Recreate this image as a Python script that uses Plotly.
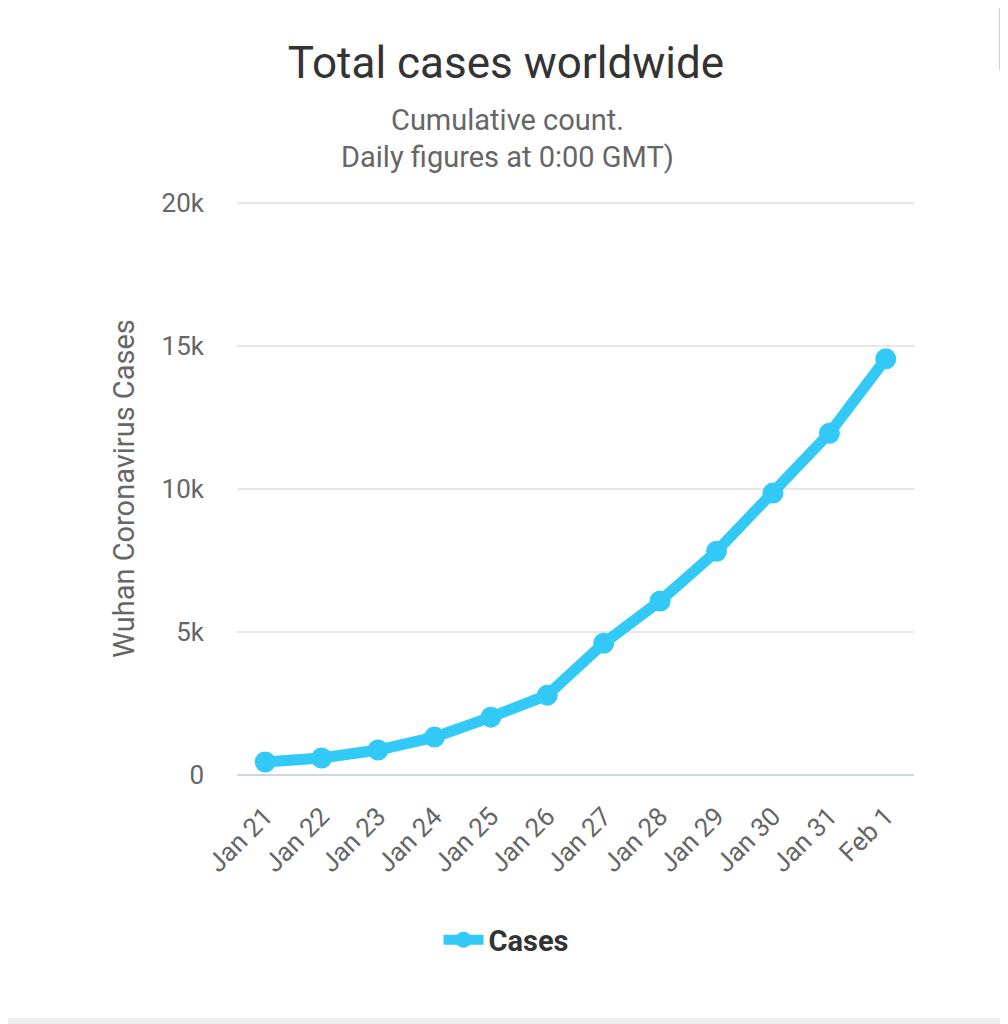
import plotly.graph_objects as go

dates = ["Jan 21", "Jan 22", "Jan 23", "Jan 24", "Jan 25", "Jan 26",
         "Jan 27", "Jan 28", "Jan 29", "Jan 30", "Jan 31", "Feb 1"]
cases = [454, 593, 873, 1326, 2024, 2792, 4607, 6087, 7825, 9860, 11951, 14555]
y_tick_vals = [0, 5000, 10000, 15000, 20000]
y_tick_text = ["0", "5k", "10k", "15k", "20k"]

FONT = "Roboto, 'Noto Sans', sans-serif"
LINE_COLOR = "#33c9f7"

# the page body adds an 8px margin, so the figure is 1000x1016 and offset by 8px
W, H = 1000, 1016
L, R, T, B = 229, 94, 194, 249
plot_w = W - L - R
plot_h = H - T - B


def px_x(px):
    return (px - L) / plot_w


def px_y(py):
    return (H - B - py) / plot_h


fig = go.Figure()
fig.add_trace(go.Scatter(
    x=list(range(len(dates))), y=cases, name="Cases",
    mode="lines+markers",
    line=dict(color=LINE_COLOR, width=11),
    marker=dict(color=LINE_COLOR, size=21),
))

fig.update_layout(
    width=W, height=H,
    paper_bgcolor="white", plot_bgcolor="white",
    margin=dict(l=L, r=R, t=T, b=B),
    font=dict(family=FONT, color="#666666"),
    title=dict(text="Total cases worldwide", x=498 / W, xanchor="center",
               y=1 - 55 / H, yanchor="middle",
               font=dict(size=44, color="#333333", family=FONT)),
    showlegend=True,
    legend=dict(orientation="h", x=498 / W, xanchor="center", xref="container",
                y=1 - 932 / H, yanchor="middle", yref="container",
                font=dict(size=29, color="#333333", family=FONT, weight="bold"),
                itemwidth=40),
    xaxis=dict(
        tickmode="array", tickvals=list(range(len(dates))), ticktext=dates,
        range=[-0.5, len(dates) - 0.5], tickangle=-45,
        tickfont=dict(size=26, color="#666666"),
        showgrid=False, showline=False, zeroline=False, ticks="",
        ticklabelstandoff=20,
    ),
    yaxis=dict(
        range=[0, 20040], tickmode="array", tickvals=y_tick_vals, ticktext=y_tick_text,
        tickfont=dict(size=26, color="#666666"),
        gridcolor="#e6e6e6", gridwidth=2,
        zeroline=True, zerolinecolor="#ccd6eb", zerolinewidth=2,
        showline=False, ticks="", ticklabelstandoff=32,
        title=dict(text="Wuhan Coronavirus Cases", standoff=18,
                   font=dict(size=29, color="#666666")),
    ),
)

fig.add_annotation(text="Cumulative count.", xref="paper", yref="paper",
                   x=px_x(499), xanchor="center",
                   y=px_y(112), yanchor="middle", showarrow=False,
                   font=dict(size=29, color="#666666"))
fig.add_annotation(text="Daily figures at 0:00 GMT)", xref="paper", yref="paper",
                   x=px_x(499), xanchor="center",
                   y=px_y(149), yanchor="middle", showarrow=False,
                   font=dict(size=29, color="#666666"))

# screenshot chrome: scrollbar at top right, grey strip at bottom
fig.add_shape(type="rect", xref="paper", yref="paper",
              x0=px_x(991), x1=px_x(1001), y0=px_y(62), y1=px_y(0),
              fillcolor="#cfcccc", line=dict(width=0), layer="above")
fig.add_shape(type="rect", xref="paper", yref="paper",
              x0=px_x(-6), x1=px_x(998), y0=px_y(1017), y1=px_y(1010),
              fillcolor="#eeeeee", line=dict(width=0), layer="above")

fig.write_html("out.html")
